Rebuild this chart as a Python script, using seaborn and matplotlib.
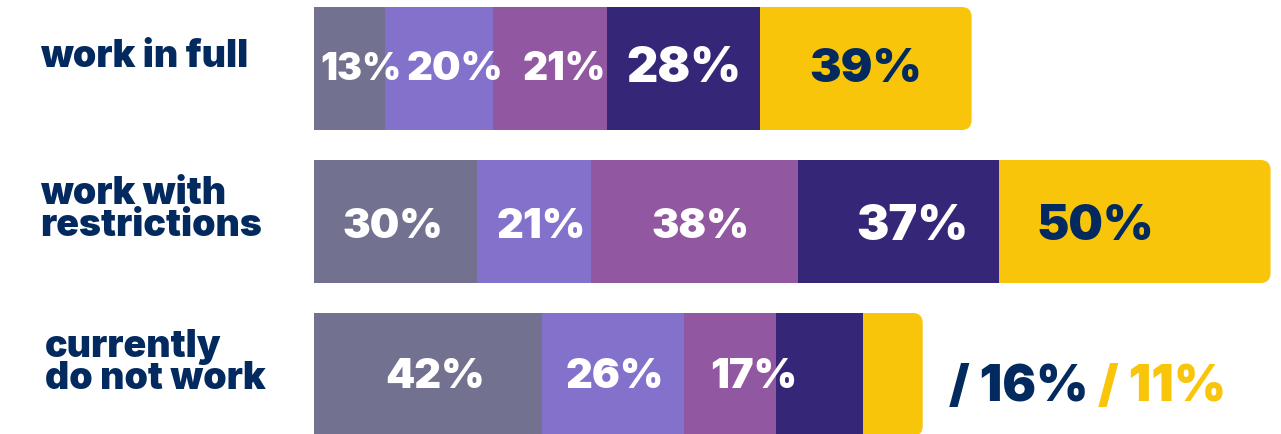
import matplotlib.pyplot as plt
import seaborn as sns
import pandas as pd
import numpy as np
from matplotlib.patches import FancyBboxPatch
from matplotlib import transforms

# data
categories = ["work in full", "work with\nrestrictions", "currently\ndo not work"]
slate = [13, 30, 42]
lavender = [20, 21, 26]
purple = [21, 38, 17]
indigo = [28, 37, 16]
yellow = [39, 50, 11]

# styling
colors = ["#72718f", "#8471cb", "#9157a0", "#362677", "#f8c50b"]
navy = "#032a5e"
font = "Inter"
label_sizes = [[27, 29, 28, 35, 34],
               [30, 30, 29.5, 35, 35],
               [30, 30, 30]]
label_dx = [[12, 16, 14, 0, 0],      # nudges in pixels
            [-3, 7, 6, 14, -39],
            [7, 2, 24]]
label_dy = [0, 5, 1.5]
cat_x_px = [40, 40, 45]

sns.set_theme(style="white")
plt.rcParams["font.family"] = [font, "DejaVu Sans"]

W, H = 1281, 435
x0_px = 314
px_per_pct = 5.435
row_px = 153
bar_w = 123 / row_px

fig = plt.figure(figsize=(W / 100, H / 100), dpi=100)
ax = fig.add_axes([x0_px / W, 0, 1 - x0_px / W, 1])

values = np.array([slate, lavender, purple, indigo, yellow])
cum = values.cumsum(axis=0)
df = pd.DataFrame({"category": categories})

r_px = 10
r_x = r_px / px_per_pct
r_y = r_px / row_px
for k in range(len(values) - 1, -1, -1):
    df["cum"] = cum[k]
    n0 = len(ax.patches)
    sns.barplot(data=df, x="cum", y="category", color=colors[k], orient="h",
                width=bar_w, errorbar=None, saturation=1, linewidth=0, ax=ax)
    if k == len(values) - 1:
        # last segment gets rounded right corners
        for p in list(ax.patches[n0:]):
            x, y, w, h = p.get_x(), p.get_y(), p.get_width(), p.get_height()
            p.remove()
            ax.add_patch(FancyBboxPatch((x, y), w, h,
                                        boxstyle=f"round,pad=0,rounding_size={r_x}",
                                        mutation_aspect=r_y / r_x,
                                        fc=colors[k], lw=0))

ax.set_xlim(0, (W - x0_px) / px_per_pct)
ax.set_ylim((H - 69.5) / row_px, -69.5 / row_px)
ax.axis("off")

# segment labels
for i in range(len(categories)):
    n_in = len(label_sizes[i])
    for k in range(n_in):
        v = values[k][i]
        xc = cum[k][i] - v / 2 + label_dx[i][k] / px_per_pct
        ax.text(xc, i + label_dy[i] / row_px, f"{v}%", ha="center", va="center",
                fontsize=label_sizes[i][k], fontweight="black",
                color=navy if k == 4 else "white")

# values of the thin segments sit outside the last bar
t1 = ax.annotate(f"/ {indigo[2]}%", xy=(cum[4][2], 2), xytext=(26 * 0.72, -12 * 0.72),
                 textcoords="offset points", ha="left", va="center",
                 fontsize=36, fontweight="black", color=navy)
ax.annotate(f"/ {yellow[2]}%", xy=(1, 0.5), xycoords=t1, xytext=(10 * 0.72, 0),
            textcoords="offset points", ha="left", va="center",
            fontsize=36, fontweight="black", color=colors[4])

# category labels
trans = transforms.blended_transform_factory(fig.transFigure, ax.transData)
for i, cat in enumerate(categories):
    ax.text(cat_x_px[i] / W, i - 0.08, cat, transform=trans, ha="left", va="center",
            fontsize=27, fontweight="black", color=navy, linespacing=0.85)

fig.savefig("out.png", dpi=100, facecolor="white")
